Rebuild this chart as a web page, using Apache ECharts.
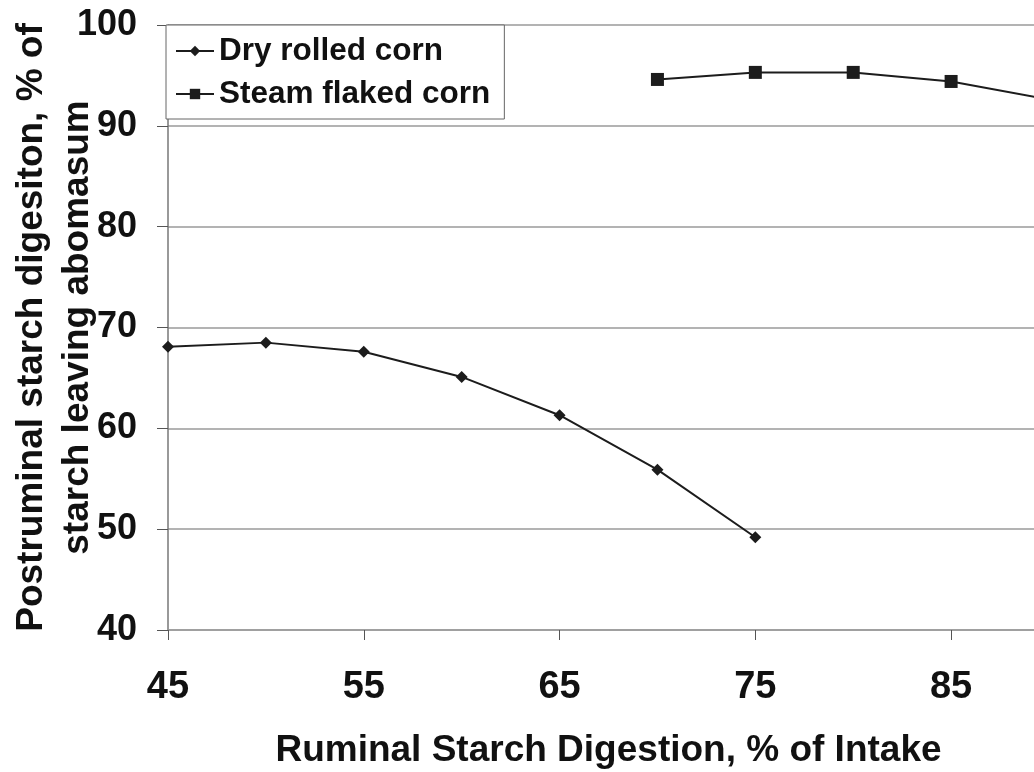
<!DOCTYPE html>
<html>
<head>
<meta charset="utf-8">
<script src="https://cdn.jsdelivr.net/npm/echarts@6/dist/echarts.min.js"></script>
<style>
  html, body { margin: 0; padding: 0; background: #fff; }
  #chart { width: 1034px; height: 772px; }
</style>
</head>
<body>
<div id="chart"></div>
<script>
// 数据
const dryX = [45, 50, 55, 60, 65, 70, 75]
const dryY = [68.1, 68.5, 67.6, 65.1, 61.3, 55.9, 49.2]
const steamX = [70, 75, 80, 85, 90]
const steamY = [94.6, 95.3, 95.3, 94.4, 92.6]

const fontFamily = '"Liberation Sans", Arial, sans-serif'
const lineColor = '#1c1c1c'
const gridColor = '#9a9a9a'

const chart = echarts.init(document.getElementById('chart'))

chart.setOption({
  animation: false,
  textStyle: { fontFamily },
  grid: { left: 168, right: -15, top: 25, bottom: 142, outerBoundsMode: 'none' },
  legend: {
    orient: 'vertical',
    left: 166,
    top: 25,
    backgroundColor: '#fff',
    borderColor: '#666',
    borderWidth: 1,
    padding: [10, 14, 9, 9],
    itemGap: 11,
    itemWidth: 38,
    itemHeight: 13,
    textStyle: { fontSize: 31.5, fontWeight: 'bold', color: '#111', fontFamily },
    data: ['Dry rolled corn', 'Steam flaked corn']
  },
  xAxis: {
    type: 'value',
    min: 45,
    max: 90,
    interval: 10,
    name: 'Ruminal Starch Digestion, % of Intake',
    nameLocation: 'middle',
    nameGap: 102,
    nameTextStyle: { fontSize: 37, fontWeight: 'bold', color: '#111' },
    axisLine: { show: true, lineStyle: { color: gridColor, width: 1.5 } },
    axisTick: { show: true, length: 10, lineStyle: { color: '#555' } },
    axisLabel: { fontSize: 38, fontWeight: 'bold', color: '#111', margin: 39, showMaxLabel: false },
    splitLine: { show: false }
  },
  yAxis: {
    type: 'value',
    min: 40,
    max: 100,
    interval: 10,
    name: 'Postruminal starch digesiton, % of\nstarch leaving abomasum',
    nameLocation: 'middle',
    nameRotate: 90,
    nameGap: 67,
    nameMoveOverlap: false,
    nameTextStyle: { fontSize: 37, fontWeight: 'bold', color: '#111', lineHeight: 46 },
    axisLine: { show: true, lineStyle: { color: '#777', width: 1.5 } },
    axisTick: { show: true, length: 11, lineStyle: { color: '#555' } },
    axisLabel: { fontSize: 36, fontWeight: 'bold', color: '#111', margin: 31 },
    splitLine: { show: true, lineStyle: { color: gridColor, width: 1.5 } }
  },
  series: [
    {
      name: 'Dry rolled corn',
      type: 'line',
      data: dryX.map((x, i) => [x, dryY[i]]),
      symbol: 'diamond',
      symbolSize: 12,
      itemStyle: { color: lineColor },
      lineStyle: { color: lineColor, width: 2 }
    },
    {
      name: 'Steam flaked corn',
      type: 'line',
      data: steamX.map((x, i) => [x, steamY[i]]),
      symbol: 'rect',
      symbolSize: 13,
      itemStyle: { color: lineColor },
      lineStyle: { color: lineColor, width: 2 }
    }
  ]
})
</script>
</body>
</html>
